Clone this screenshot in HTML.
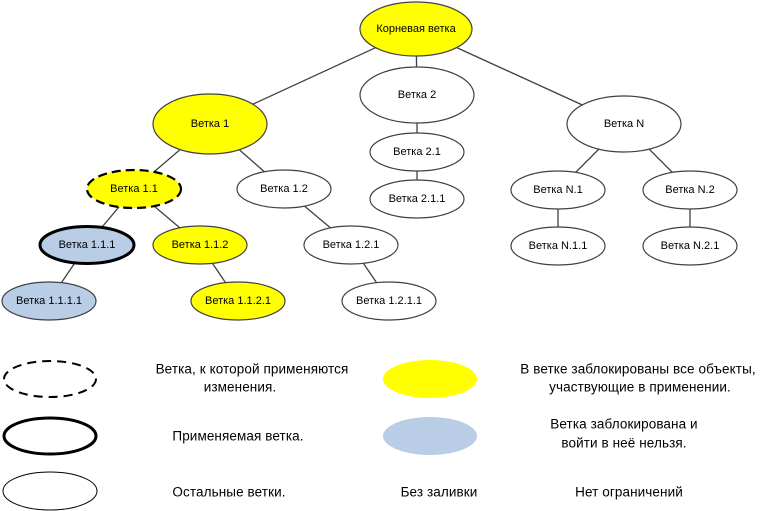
<!DOCTYPE html>
<html><head><meta charset="utf-8"><style>
html,body{margin:0;padding:0;background:#fff;width:774px;height:511px;overflow:hidden}
svg{display:block}
text{font-family:"Liberation Sans",sans-serif;font-size:11px;fill:#000;text-anchor:middle;dominant-baseline:central}
.lg{font-size:13.5px;letter-spacing:0.1px}
</style></head><body>
<svg width="774" height="511" viewBox="0 0 774 511">
<g stroke="#404040" stroke-width="1.3">
<line x1="416" y1="29" x2="210" y2="124"/>
<line x1="416" y1="29" x2="417" y2="95"/>
<line x1="416" y1="29" x2="624" y2="124"/>
<line x1="417" y1="95" x2="417" y2="152"/>
<line x1="417" y1="152" x2="417" y2="199"/>
<line x1="624" y1="124" x2="558" y2="190"/>
<line x1="624" y1="124" x2="690" y2="190"/>
<line x1="558" y1="190" x2="558" y2="246"/>
<line x1="690" y1="190" x2="690" y2="246"/>
<line x1="210" y1="124" x2="134" y2="189"/>
<line x1="210" y1="124" x2="284" y2="189"/>
<line x1="134" y1="189" x2="87" y2="245"/>
<line x1="134" y1="189" x2="200" y2="245"/>
<line x1="284" y1="189" x2="351" y2="245"/>
<line x1="87" y1="245" x2="49" y2="301"/>
<line x1="200" y1="245" x2="238" y2="301"/>
<line x1="351" y1="245" x2="389" y2="301"/>
</g>
<g stroke="#404040" stroke-width="1.2">
<ellipse cx="416" cy="29" rx="56" ry="27" fill="#ffff00"/>
<ellipse cx="417" cy="95" rx="57" ry="28" fill="#fff"/>
<ellipse cx="624" cy="124" rx="57" ry="28" fill="#fff"/>
<ellipse cx="210" cy="124" rx="57" ry="30" fill="#ffff00"/>
<ellipse cx="417" cy="152" rx="47" ry="19" fill="#fff"/>
<ellipse cx="417" cy="199" rx="47" ry="19" fill="#fff"/>
<ellipse cx="558" cy="190" rx="47" ry="19" fill="#fff"/>
<ellipse cx="690" cy="190" rx="47" ry="19" fill="#fff"/>
<ellipse cx="558" cy="246" rx="47" ry="19" fill="#fff"/>
<ellipse cx="690" cy="246" rx="47" ry="19" fill="#fff"/>
<ellipse cx="284" cy="189" rx="47" ry="19" fill="#fff"/>
<ellipse cx="200" cy="245" rx="47" ry="19" fill="#ffff00"/>
<ellipse cx="351" cy="245" rx="47" ry="19" fill="#fff"/>
<ellipse cx="49" cy="301" rx="47" ry="19" fill="#b9cde6"/>
<ellipse cx="238" cy="301" rx="47" ry="19" fill="#ffff00"/>
<ellipse cx="389" cy="301" rx="47" ry="19" fill="#fff"/>
</g>
<ellipse cx="134" cy="189" rx="47" ry="19" fill="#ffff00" stroke="#000" stroke-width="2.2" stroke-dasharray="9,5"/>
<ellipse cx="87" cy="245" rx="47" ry="18.5" fill="#b9cde6" stroke="#000" stroke-width="3"/>
<text x="416" y="29">Корневая ветка</text>
<text x="417" y="95">Ветка 2</text>
<text x="624" y="124">Ветка N</text>
<text x="210" y="124">Ветка 1</text>
<text x="417" y="152">Ветка 2.1</text>
<text x="417" y="199">Ветка 2.1.1</text>
<text x="558" y="190">Ветка N.1</text>
<text x="690" y="190">Ветка N.2</text>
<text x="558" y="246">Ветка N.1.1</text>
<text x="690" y="246">Ветка N.2.1</text>
<text x="134" y="189">Ветка 1.1</text>
<text x="284" y="189">Ветка 1.2</text>
<text x="87" y="245">Ветка 1.1.1</text>
<text x="200" y="245">Ветка 1.1.2</text>
<text x="351" y="245">Ветка 1.2.1</text>
<text x="49" y="301">Ветка 1.1.1.1</text>
<text x="238" y="301">Ветка 1.1.2.1</text>
<text x="389" y="301">Ветка 1.2.1.1</text>
<ellipse cx="50" cy="379" rx="46" ry="18" fill="none" stroke="#000" stroke-width="2" stroke-dasharray="9,6"/>
<ellipse cx="50" cy="436" rx="46" ry="18" fill="none" stroke="#000" stroke-width="3"/>
<ellipse cx="50" cy="491" rx="47" ry="19" fill="none" stroke="#000" stroke-width="1"/>
<ellipse cx="430" cy="379" rx="47" ry="19" fill="#ffff00"/>
<ellipse cx="430" cy="436" rx="47" ry="19" fill="#b9cde6"/>
<text class="lg" x="252" y="369">Ветка, к которой применяются</text>
<text class="lg" x="240" y="387">изменения.</text>
<text class="lg" x="238" y="436">Применяемая ветка.</text>
<text class="lg" x="229" y="492">Остальные ветки.</text>
<text class="lg" x="439" y="492">Без заливки</text>
<text class="lg" x="638" y="369">В ветке заблокированы все объекты,</text>
<text class="lg" x="640" y="387">участвующие в применении.</text>
<text class="lg" x="624" y="424">Ветка заблокирована и</text>
<text class="lg" x="624" y="443">войти в неё нельзя.</text>
<text class="lg" x="629" y="492">Нет ограничений</text>
</svg>
</body></html>
